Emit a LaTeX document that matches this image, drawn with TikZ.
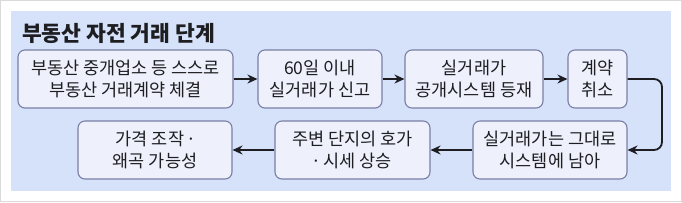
\documentclass[tikz,border=0pt]{standalone}
\usepackage{fontspec}
\setmainfont{Noto Sans CJK KR}
\usetikzlibrary{arrows.meta, positioning}
\definecolor{panelBlue}{HTML}{D5E2FA}
\definecolor{boxFill}{HTML}{EEF0FB}
\definecolor{boxLine}{HTML}{7A7FA6}
\definecolor{frameGrey}{HTML}{DADADA}
\definecolor{inkDark}{HTML}{1E1E22}
\newcommand{\middot}{\makebox[0.35em]{·}}
\tikzset{
  stepbox/.style = {draw=boxLine, fill=boxFill, line width=1.1pt, rounded corners=7pt,
                    inner sep=0pt, minimum height=58pt, align=center, text=inkDark,
                    font=\fontsize{17.5}{21.5}\selectfont},
  flow/.style    = {-{Stealth[length=10pt, width=9pt]}, line width=1.8pt, inkDark},
}
\begin{document}
\begin{tikzpicture}[x=1pt, y=-1pt]
  % frame and panel
  \useasboundingbox (0,0) rectangle (682,202);
  \draw[frameGrey, fill=white, line width=1pt] (0.5,0.5) rectangle (681.5,201.5);
  \fill[panelBlue] (11,11) rectangle (671,191);
  \node[anchor=west, font=\fontsize{21.5}{24}\selectfont\bfseries, text=inkDark, inner sep=0pt]
    (title) at (22,33) {부동산 자전 거래 단계};
  % top row
  \node[stepbox, minimum width=215pt] (deal)   at (125.5,79) {부동산 중개업소 등 스스로\\부동산 거래계약 체결};
  \node[stepbox, minimum width=124pt] (report) at (320,79)   {60일 이내\\실거래가 신고};
  \node[stepbox, minimum width=138pt] (post)   at (474,79)   {실거래가\\공개시스템 등재};
  \node[stepbox, minimum width=59pt]  (cancel) at (597.5,79) {계약\\취소};
  % bottom row
  \node[stepbox, minimum width=154pt] (remain) at (550,150)  {실거래가는 그대로\\시스템에 남아};
  \node[stepbox, minimum width=155pt] (rise)   at (352.5,150) {주변 단지의 호가\\\middot{} 시세 상승};
  \node[stepbox, minimum width=154pt] (distort) at (155,150) {가격 조작 \middot\\왜곡 가능성};
  % connectors
  \draw[flow] (deal) -- (report);
  \draw[flow] (report) -- (post);
  \draw[flow] (post) -- (cancel);
  \draw[flow, rounded corners=8pt] (cancel.east) -- (662,79) -- (662,150) -- (remain.east);
  \draw[flow] (remain) -- (rise);
  \draw[flow] (rise) -- (distort);
\end{tikzpicture}
\end{document}
